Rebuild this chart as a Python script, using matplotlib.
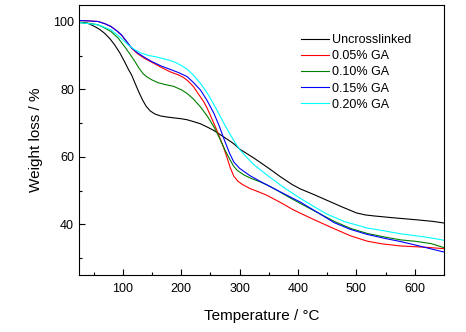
import matplotlib
matplotlib.use('Agg')
import matplotlib.pyplot as plt
from matplotlib.ticker import MultipleLocator

plt.rcParams['font.family'] = ['Liberation Sans', 'DejaVu Sans']

# TGA curves
x_uncross = [25, 40, 52, 60, 69, 78, 86, 95, 103, 110, 115, 121, 128, 134, 140, 147, 155, 165,
             176, 190, 200, 210, 220, 233, 245, 255, 265, 278, 290, 301, 312, 324, 335, 350,
             370, 390, 404, 425, 450, 475, 500, 515, 530, 560, 600, 630, 650]
y_uncross = [99.9, 99.6, 98.6, 97.8, 96.6, 95.0, 93.2, 90.8, 88.2, 85.8, 84.3, 81.8, 79.0, 76.8,
             75.0, 73.6, 72.7, 72.1, 71.8, 71.5, 71.3, 71.0, 70.5, 69.8, 68.8, 67.9, 66.8, 65.3,
             63.9, 62.2, 61.0, 59.7, 58.4, 56.6, 54.1, 51.8, 50.5, 49.0, 47.1, 45.2, 43.4, 42.8,
             42.5, 42.0, 41.4, 40.9, 40.4]

x_005 = [25, 40, 58, 70, 80, 90, 98, 106, 115, 125, 137, 150, 166, 181, 195, 204, 213, 221,
         230, 238, 244, 252, 261, 267, 273, 278, 284, 290, 297, 305, 318, 333, 347, 360, 375,
         390, 404, 430, 462, 490, 519, 545, 576, 620, 650]
y_005 = [100.4, 100.3, 100.1, 99.4, 98.6, 97.3, 96.0, 94.2, 92.2, 90.6, 89.2, 88.0, 86.5, 85.2,
         84.3, 83.5, 82.3, 80.8, 78.5, 76.5, 74.6, 71.5, 67.9, 65.3, 62.6, 60.0, 56.8, 54.3,
         52.8, 51.8, 50.6, 49.6, 48.6, 47.4, 46.0, 44.5, 43.3, 41.2, 38.7, 36.6, 35.0, 34.2,
         33.6, 33.2, 32.8]

x_010 = [25, 45, 58, 70, 80, 92, 103, 112, 121, 128, 135, 142, 150, 160, 173, 187, 201, 210,
         220, 233, 245, 256, 265, 275, 284, 290, 296, 308, 320, 335, 347, 365, 385, 404, 430,
         462, 490, 519, 550, 576, 600, 628, 650]
y_010 = [99.8, 99.5, 99.1, 98.1, 97.1, 95.2, 92.7, 90.5, 88.2, 86.2, 84.6, 83.6, 82.8, 82.0,
         81.4, 80.9, 79.8, 78.8, 77.3, 74.8, 72.0, 68.9, 65.8, 62.0, 59.0, 57.2, 56.0, 54.6,
         53.6, 52.6, 51.7, 50.0, 48.0, 46.2, 43.8, 40.9, 38.8, 37.3, 36.2, 35.4, 35.0, 34.3,
         33.1]

x_015 = [25, 40, 58, 70, 80, 90, 98, 106, 115, 126, 138, 150, 166, 180, 195, 210, 220, 233,
         244, 256, 265, 275, 283, 290, 300, 318, 340, 370, 404, 430, 462, 490, 519, 550, 576,
         610, 650]
y_015 = [100.4, 100.3, 100.1, 99.4, 98.6, 97.3, 96.1, 94.3, 92.3, 90.7, 89.4, 88.2, 86.9, 86.0,
         85.0, 83.8, 82.2, 79.8, 76.8, 72.9, 69.2, 64.5, 61.0, 58.5, 56.6, 54.4, 52.3, 49.6,
         46.6, 43.9, 40.5, 38.5, 37.0, 35.8, 34.9, 33.5, 31.8]

x_020 = [25, 45, 58, 70, 80, 95, 109, 120, 132, 145, 155, 167, 178, 190, 201, 210, 222, 233,
         245, 255, 261, 273, 284, 293, 301, 313, 325, 347, 375, 404, 430, 450, 480, 519, 550,
         576, 620, 650]
y_020 = [99.8, 99.4, 99.1, 98.3, 97.6, 95.5, 93.2, 91.8, 90.7, 90.0, 89.7, 89.2, 88.7, 88.0,
         87.0, 86.0, 84.0, 81.8, 78.8, 75.8, 73.9, 70.0, 66.6, 64.0, 62.0, 59.7, 57.6, 54.6,
         51.0, 47.7, 45.0, 43.0, 40.8, 38.9, 38.0, 37.2, 36.2, 35.3]

fig = plt.figure(figsize=(4.66, 3.32), dpi=100)
ax = fig.add_axes([0.1695, 0.1717, 0.7833, 0.8133])

ax.plot(x_uncross, y_uncross, color='black', lw=0.8, label='Uncrosslinked')
ax.plot(x_005, y_005, color='red', lw=0.8, label='0.05% GA')
ax.plot(x_010, y_010, color='green', lw=0.8, label='0.10% GA')
ax.plot(x_015, y_015, color='blue', lw=0.8, label='0.15% GA')
ax.plot(x_020, y_020, color='cyan', lw=0.8, label='0.20% GA')

ax.set_xlim(25, 650)
ax.set_ylim(25, 105)
ax.xaxis.set_major_locator(MultipleLocator(100))
ax.xaxis.set_minor_locator(MultipleLocator(50))
ax.yaxis.set_major_locator(MultipleLocator(20))
ax.yaxis.set_minor_locator(MultipleLocator(10))
ax.tick_params(which='both', direction='in', labelsize=9, width=0.8)
ax.tick_params(which='major', length=4)
ax.tick_params(which='minor', length=2)
ax.tick_params(axis='x', pad=6)
for s in ax.spines.values():
    s.set_linewidth(0.8)

ax.set_xlabel('Temperature / °C', fontsize=11, labelpad=10)
ax.set_ylabel('Weight loss / %', fontsize=11, labelpad=7)

ax.legend(loc='upper left', bbox_to_anchor=(0.607, 0.892), frameon=False, fontsize=9,
          handlelength=2.3, handletextpad=0.25, labelspacing=0.33,
          borderpad=0, borderaxespad=0)

plt.savefig('out.png', dpi=100)
